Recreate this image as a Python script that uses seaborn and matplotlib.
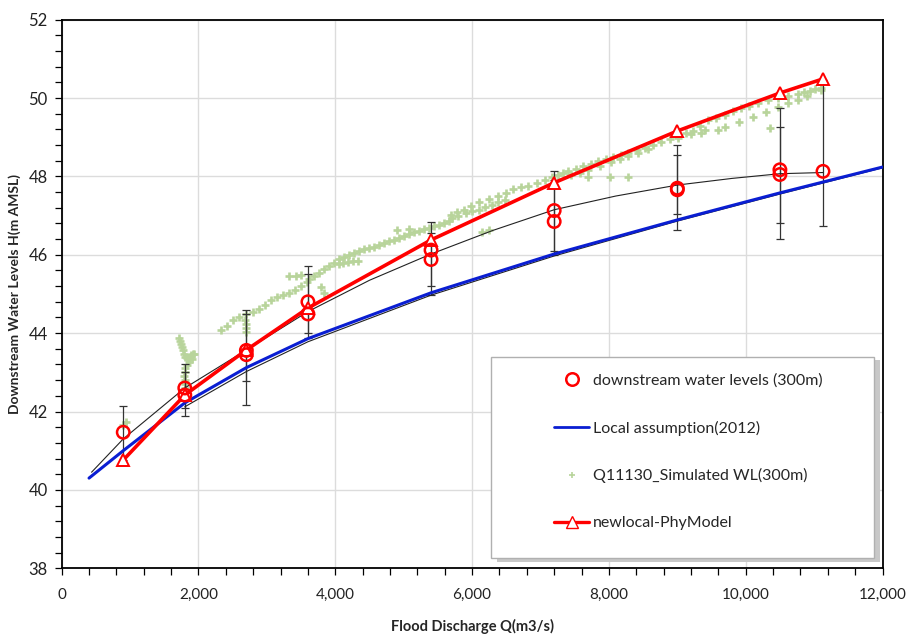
import numpy as np
import pandas as pd
import seaborn as sns
import matplotlib.pyplot as plt
from matplotlib.lines import Line2D
from matplotlib.patches import Rectangle
from matplotlib.ticker import MultipleLocator, FuncFormatter

# measured water levels (two circles per discharge where present)
obs_q = [900, 1800, 1800, 2700, 2700, 3600, 3600, 5400, 5400, 7200, 7200, 9000, 9000, 10500, 10500, 11130]
obs_h = [41.47, 42.60, 42.42, 43.56, 43.45, 44.80, 44.49, 46.12, 45.88, 47.13, 46.85, 47.70, 47.66, 48.17, 48.05, 48.13]

# error bar ranges (outer)
err_q = [900, 1800, 2700, 3600, 5400, 7200, 9000, 10500, 11130]
err_lo = [40.76, 41.88, 42.16, 43.88, 44.97, 46.00, 46.63, 46.40, 46.74]
err_hi = [42.14, 43.21, 44.59, 45.71, 46.84, 48.14, 48.81, 49.75, 50.47]
# inner error bar ranges
err2_q = [1800, 2700, 3600, 5400, 7200, 9000, 10500]
err2_lo = [42.10, 42.78, 44.00, 45.20, 46.10, 47.04, 46.81]
err2_hi = [43.00, 44.50, 45.50, 46.56, 47.90, 48.55, 49.27]

# trend through the observations
fit_q = [437, 900, 1800, 2700, 3600, 4500, 5400, 6300, 7200, 8100, 9000, 9800, 10500, 11130]
fit_h = [40.45, 41.30, 42.60, 43.57, 44.55, 45.35, 46.02, 46.62, 47.15, 47.50, 47.78, 47.95, 48.07, 48.10]

# Local assumption (2012)
local_q = [400, 900, 1800, 2700, 3600, 5400, 7200, 9000, 10500, 12000]
local_h = [40.30, 41.00, 42.22, 43.12, 43.86, 45.03, 46.02, 46.89, 47.58, 48.24]
local_fit_q = [1800, 2700, 3600, 5400, 7200, 9000, 10500, 12000]
local_fit_h = [42.12, 43.02, 43.78, 44.97, 45.97, 46.86, 47.55, 48.22]

# newlocal-PhyModel
phy_q = [900, 1800, 2700, 3600, 5400, 7200, 9000, 10500, 11130]
phy_h = [40.76, 42.42, 43.57, 44.64, 46.38, 47.84, 49.16, 50.13, 50.49]

# Q11130 simulated WL (300m)
sim_q = [900, 940,
         1720, 1735, 1750, 1765, 1780, 1795, 1810, 1830, 1860, 1890, 1920, 1940, 1900, 1860, 1830, 1810, 1800, 1795, 1800, 1805, 1810,
         2333, 2420, 2508, 2595, 2697, 2800, 2887, 2974, 3062, 3149, 3237, 3324, 3412, 3500, 3587,
         2680, 2690, 2700, 2690, 3324, 3426, 3500, 3791, 3835,
         3616, 3689, 3762, 3835, 3908, 3980, 4053, 4126, 4199, 4272, 4345, 4418, 4491, 4564, 4636, 4709,
         4782, 4855, 4928, 5001, 5074, 5147, 5220, 5293, 5365, 5438, 5511, 5584, 5657,
         4053, 4120, 4190, 4258, 4330, 4899, 5074,
         5686, 5780, 5876, 5985, 6094, 6240, 6386, 6495, 6605, 6714, 6823, 6947, 7071, 7166, 7261, 7334,
         7407, 7516, 7625, 7734, 7844, 7953, 8063, 8172, 8282, 8405, 8529, 8646, 8763, 8886, 9010, 9120,
         9229, 9338, 9448, 9572, 9696, 9812, 9929, 10053, 10177, 10322, 10468, 10614, 10760, 10848, 10935,
         11015, 11095,
         5700, 5800, 5905, 6000, 6094, 6190, 6284, 6386, 6488,
         7450, 7574, 7698, 7866, 8034, 8158, 8282, 8427, 8573,
         9010, 9200, 9400, 9696, 9900, 10100, 10300, 10468, 10614, 10760, 10900, 11095,
         6138, 6240, 7698, 8019, 8282, 9350, 9600, 10352]
sim_h = [41.66, 41.72,
         43.88, 43.80, 43.72, 43.64, 43.56, 43.48, 43.40, 43.36, 43.40, 43.43, 43.46, 43.48, 43.34, 43.26, 43.18, 43.10, 43.00, 42.90, 42.80, 42.70, 42.60,
         44.08, 44.18, 44.34, 44.42, 44.49, 44.54, 44.62, 44.72, 44.85, 44.93, 44.98, 45.03, 45.10, 45.20, 45.31,
         44.34, 44.24, 44.14, 44.03, 45.46, 45.46, 45.48, 45.18, 45.02,
         45.38, 45.46, 45.54, 45.63, 45.72, 45.80, 45.89, 45.95, 46.00, 46.05, 46.10, 46.14, 46.17, 46.21, 46.25, 46.30,
         46.35, 46.39, 46.43, 46.48, 46.53, 46.57, 46.61, 46.65, 46.69, 46.73, 46.76, 46.81, 46.86,
         45.77, 45.79, 45.81, 45.83, 45.85, 46.63, 46.66,
         47.02, 47.08, 47.15, 47.25, 47.35, 47.43, 47.50, 47.59, 47.68, 47.72, 47.76, 47.84, 47.91, 47.98, 48.04, 48.09,
         48.14, 48.20, 48.27, 48.33, 48.40, 48.45, 48.50, 48.55, 48.60, 48.67, 48.73, 48.80, 48.88, 48.96, 49.04, 49.10,
         49.16, 49.30, 49.44, 49.50, 49.57, 49.66, 49.75, 49.81, 49.88, 49.94, 50.01, 50.06, 50.11, 50.15, 50.19,
         50.22, 50.26,
         46.94, 47.00, 47.07, 47.11, 47.15, 47.21, 47.27, 47.34, 47.40,
         48.04, 48.10, 48.17, 48.27, 48.37, 48.45, 48.52, 48.61, 48.70,
         48.98, 49.08, 49.18, 49.27, 49.40, 49.52, 49.65, 49.78, 49.87, 49.96, 50.06, 50.21,
         46.58, 46.63, 47.99, 47.99, 47.99, 49.12, 49.19, 49.24]

labels = ["downstream water levels (300m)", "Local assumption(2012)",
          "Q11130_Simulated WL(300m)", "newlocal-PhyModel"]

sns.set_theme(style="white")
plt.rcParams['font.family'] = ['Lato', 'DejaVu Sans']

fig = plt.figure(figsize=(9.07, 6.37), dpi=100)
ax = fig.add_axes([0.068, 0.108, 0.905, 0.861])

green = "#b8d49b"
sns.scatterplot(x=sim_q, y=sim_h, marker="+", s=26, linewidth=1.9, color=green, ax=ax, zorder=2)

# error bars
lo = np.array(err_lo); hi = np.array(err_hi)
ax.errorbar(err_q, (lo + hi) / 2, yerr=(hi - lo) / 2, fmt="none", ecolor="#333333",
            elinewidth=0.9, capsize=3, capthick=0.9, zorder=3)
lo2 = np.array(err2_lo); hi2 = np.array(err2_hi)
ax.errorbar(err2_q, (lo2 + hi2) / 2, yerr=(hi2 - lo2) / 2, fmt="none", ecolor="#333333",
            elinewidth=0.9, capsize=3, capthick=0.9, zorder=3)

sns.lineplot(x=local_fit_q, y=local_fit_h, color="#222222", lw=0.8, sort=False, estimator=None, ax=ax, zorder=3)
sns.lineplot(x=local_q, y=local_h, color="#0a1ed2", lw=2.2, sort=False, estimator=None, ax=ax, zorder=4)
sns.lineplot(x=fit_q, y=fit_h, color="#222222", lw=0.8, sort=False, estimator=None, ax=ax, zorder=4)
sns.lineplot(x=phy_q, y=phy_h, color="#ff0000", lw=2.6, sort=False, estimator=None, ax=ax, zorder=5,
             marker="^", markersize=9, markerfacecolor="white", markeredgecolor="#ff0000", markeredgewidth=1.4)
sns.scatterplot(x=obs_q, y=obs_h, marker="o", s=80, facecolor="none", edgecolor="#ff0000",
                linewidth=1.8, ax=ax, zorder=6)

ax.set_xlim(0, 12000)
ax.set_ylim(38, 52)
ax.xaxis.set_major_locator(MultipleLocator(2000))
ax.xaxis.set_minor_locator(MultipleLocator(400))
ax.yaxis.set_major_locator(MultipleLocator(2))
ax.yaxis.set_minor_locator(MultipleLocator(0.4))
ax.xaxis.set_major_formatter(FuncFormatter(lambda v, p: f"{v:,.0f}"))
ax.grid(True, which="major", color="#dcdcdc", lw=1)
ax.tick_params(which="both", direction="out", color="black", length=5, width=0.9,
               bottom=True, left=True, labelsize=12, labelcolor="#222222")
ax.tick_params(axis="x", pad=9, labelsize=11)
ax.tick_params(axis="y", pad=5)
for s in ax.spines.values():
    s.set_color("black")
    s.set_linewidth(1.3)

ax.set_xlabel("Flood Discharge Q(m3/s)", fontsize=10.5, fontweight="bold", va="center")
ax.set_ylabel("Downstream Water Levels H(m AMSL)", fontsize=10, fontweight="bold", va="center")
ax.xaxis.set_label_coords(0.5, -0.107)
ax.yaxis.set_label_coords(-0.057, 0.5)

# legend box with shadow
ax.add_patch(Rectangle((0.530, 0.012), 0.467, 0.367, transform=ax.transAxes,
                       facecolor="#c8c8c8", edgecolor="none", zorder=7))
ax.add_patch(Rectangle((0.523, 0.018), 0.467, 0.367, transform=ax.transAxes,
                       facecolor="white", edgecolor="#b0b0b0", lw=1, zorder=7))
handles = [
    Line2D([], [], ls="none", marker="o", markersize=9, markerfacecolor="none",
           markeredgecolor="#ff0000", markeredgewidth=1.8),
    Line2D([], [], color="#0a1ed2", lw=2),
    Line2D([], [], ls="none", marker="+", markersize=4, color=green, markeredgewidth=1.2),
    Line2D([], [], color="#ff0000", lw=2.4, marker="^", markersize=8, markerfacecolor="white",
           markeredgecolor="#ff0000"),
]
leg = ax.legend(handles, labels, loc="upper left", bbox_to_anchor=(0.600, 0.355), frameon=False,
                fontsize=11.5, labelspacing=2.05, handlelength=2.2, handletextpad=0.25,
                borderpad=0, borderaxespad=0)
leg.set_zorder(8)

fig.savefig("out.png", dpi=100)
